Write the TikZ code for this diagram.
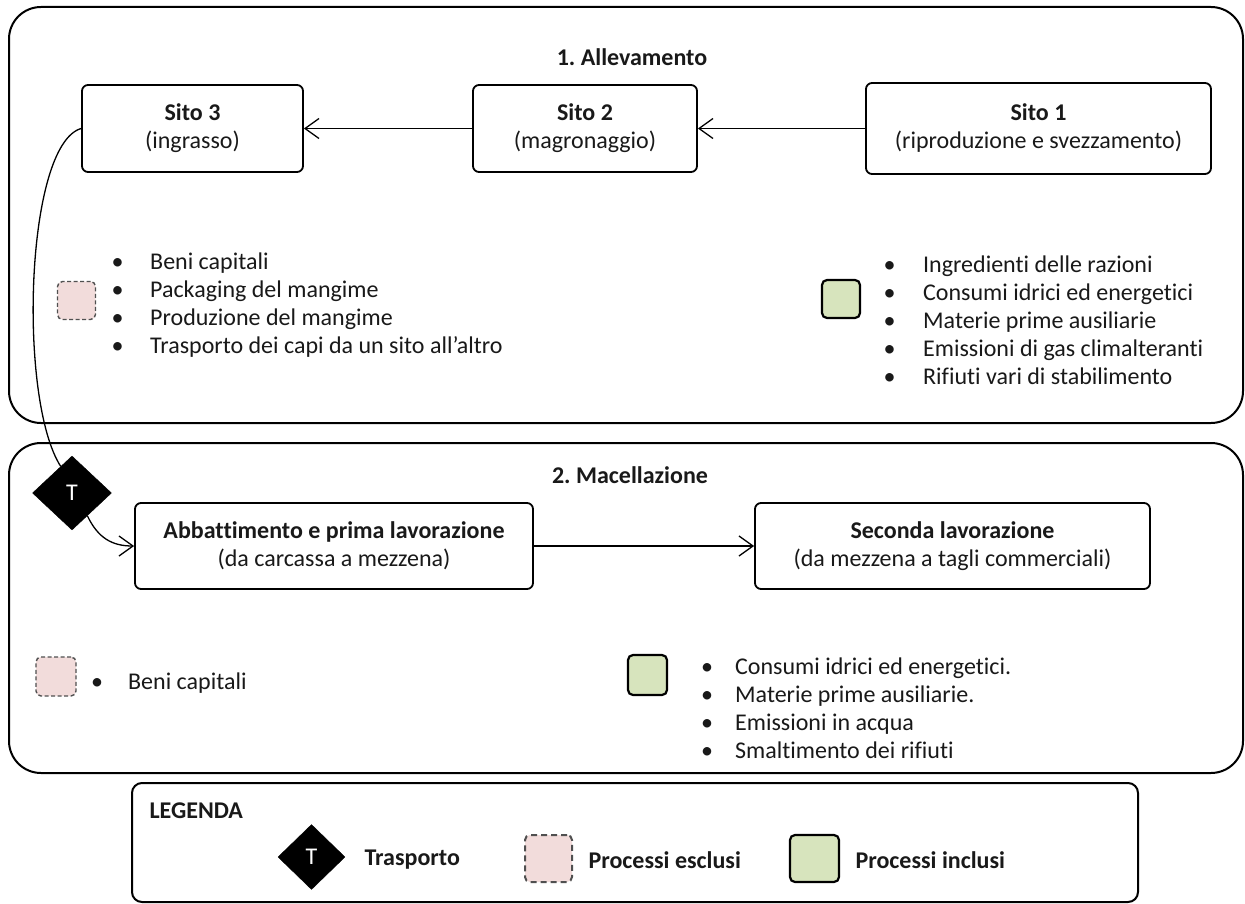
\documentclass[tikz,border=0pt]{standalone}
\usepackage{fontspec}
\setmainfont{Carlito}[Ligatures={NoCommon}]
\usetikzlibrary{arrows.meta,shapes.geometric}
\definecolor{incl}{RGB}{215,228,189}
\definecolor{excl}{RGB}{242,220,219}
\definecolor{txt}{RGB}{25,25,25}
\frenchspacing
\begin{document}
\begin{tikzpicture}[x=1pt,y=-1pt,
  every node/.style={font=\fontsize{24}{28}\selectfont, text=txt},
  bigbox/.style={draw=black, line width=2pt, rounded corners=32pt},
  legbox/.style={draw=black, line width=2pt, rounded corners=10pt},
  site/.style={draw=black, line width=1.8pt, rounded corners=6pt, align=center, inner sep=0pt},
  ttl/.style={font=\fontsize{24}{28}\selectfont\bfseries},
  exclbox/.style={draw={rgb,255:red,80;green,80;blue,80}, fill=excl, line width=1.4pt, dash pattern=on 4pt off 2.5pt, rounded corners=5pt, inner sep=0pt},
  inclbox/.style={draw=black, fill=incl, line width=2.2pt, rounded corners=5pt, inner sep=0pt},
  trans/.style={diamond, fill=black, draw=black, text=white, inner sep=0pt},
  conn/.style={draw=black, line width=1.3pt},
  arr/.style={conn, -{Straight Barb[length=14pt,width=20pt,line width=1.3pt]}},
  blist/.style={align=left, inner sep=0pt, anchor=west},
]
\useasboundingbox (0,0) rectangle (1245,904);
\fill[white] (0,0) rectangle (1245,904);

% containers
\draw[bigbox] (9,7) rectangle (1243,423);
\draw[bigbox] (9,443) rectangle (1243,773);
\draw[legbox] (132,783) rectangle (1138,902);

% section 1
\node[ttl] (t1) at (632,57) {1. Allevamento};
\node[site, minimum width=221pt, minimum height=87pt] (s3) at (192.5,128.5) {\textbf{Sito 3}\\(ingrasso)};
\node[site, minimum width=224pt, minimum height=87pt] (s2) at (585,128.5) {\textbf{Sito 2}\\(magronaggio)};
\node[site, minimum width=345pt, minimum height=91pt] (s1) at (1038.5,128.5) {\textbf{Sito 1}\\(riproduzione e svezzamento)};
\draw[arr] (s1.west) -- (s2.east);
\draw[arr] (s2.west) -- (s3.east);

\node[exclbox, minimum width=38pt, minimum height=38pt] (ex1) at (76.5,300.5) {};
\node[blist] (l1) at (111.5,305) {\makebox[38.5pt][l]{•}Beni capitali\\
\makebox[38.5pt][l]{•}Packaging del mangime\\
\makebox[38.5pt][l]{•}Produzione del mangime\\
\makebox[38.5pt][l]{•}Trasporto dei capi da un sito all’altro};

\node[inclbox, minimum width=38pt, minimum height=38pt] (in1) at (841,299) {};
\node[blist] (l2) at (883.5,320) {\makebox[39.5pt][l]{•}Ingredienti delle razioni\\
\makebox[39.5pt][l]{•}Consumi idrici ed energetici\\
\makebox[39.5pt][l]{•}Materie prime ausiliarie\\
\makebox[39.5pt][l]{•}Emissioni di gas climalteranti\\
\makebox[39.5pt][l]{•}Rifiuti vari di stabilimento};

% section 2
\node[ttl] (t2) at (630,475) {2. Macellazione};
\node[trans, minimum width=79pt, minimum height=74pt] (d1) at (72,493) {T};
\node[site, minimum width=398pt, minimum height=86pt] (ab) at (334,546) {\textbf{Abbattimento e prima lavorazione}\\(da carcassa a mezzena)};
\node[site, minimum width=395pt, minimum height=86pt] (se) at (952.5,546) {\textbf{Seconda lavorazione}\\(da mezzena a tagli commerciali)};
\draw[arr] (ab.east) -- (se.west);

\draw[conn] (s3.west) .. controls (25,145) and (18,400) .. (d1.113);
\draw[arr] (d1.-56) .. controls (98,538) and (112,546) .. (ab.west);

\node[exclbox, minimum width=40pt, minimum height=39pt] (ex2) at (56,676.5) {};
\node[blist] (l3) at (91,683) {\makebox[37pt][l]{•}Beni capitali};

\node[inclbox, minimum width=39pt, minimum height=40pt] (in2) at (647.5,675) {};
\node[blist] (l4) at (701,708) {\makebox[34pt][l]{•}Consumi idrici ed energetici.\\
\makebox[34pt][l]{•}Materie prime ausiliarie.\\
\makebox[34pt][l]{•}Emissioni in acqua\\
\makebox[34pt][l]{•}Smaltimento dei rifiuti};

% legend
\node[ttl, anchor=west] (lg) at (146,811) {LEGENDA};
\node[trans, minimum width=67pt, minimum height=65pt] (d2) at (311.5,857) {T};
\node[ttl, anchor=west] (lt) at (361,860) {Trasporto};
\node[exclbox, line width=2pt, dash pattern=on 6pt off 4pt, minimum width=47pt, minimum height=47pt] (ex3) at (548.5,858.5) {};
\node[ttl, anchor=west] (le) at (585,860) {Processi esclusi};
\node[inclbox, minimum width=49pt, minimum height=47pt] (in3) at (814.5,858.5) {};
\node[ttl, anchor=west] (li) at (852,860) {Processi inclusi};
\end{tikzpicture}
\end{document}
